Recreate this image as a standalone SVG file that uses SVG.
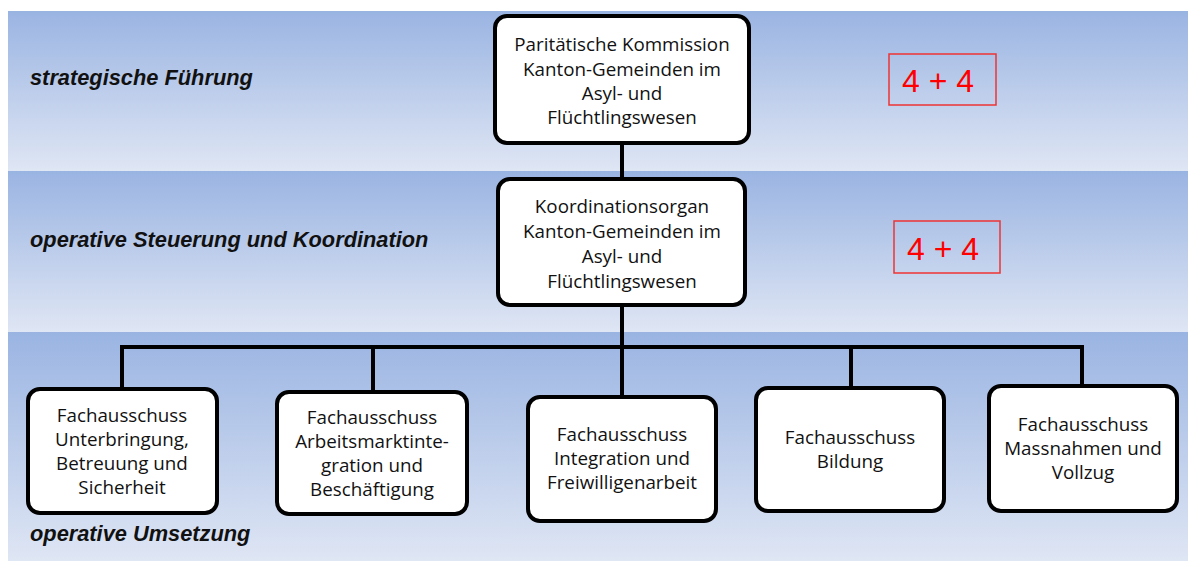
<svg xmlns="http://www.w3.org/2000/svg" width="1188" height="562" viewBox="0 0 1188 562">
<defs>
<linearGradient id="band" x1="0" y1="0" x2="0" y2="1">
<stop offset="0" stop-color="#9ab4e2"/>
<stop offset="1" stop-color="#dfe6f4"/>
</linearGradient>
</defs>
<style>
.box{fill:#ffffff;stroke:#000000;stroke-width:4}
.lbl{font-family:"Open Sans","Liberation Sans",sans-serif;font-size:18.8px;fill:#111111;text-anchor:middle}
.lvl{font-family:"Liberation Sans",Arial,sans-serif;font-size:21.8px;font-weight:bold;font-style:italic;fill:#111111}
.num{font-family:"Liberation Sans",Arial,sans-serif;font-size:32px;fill:#ff0000;text-anchor:middle}
.numbox{fill:none;stroke:#ee3333;stroke-width:1.5}
.con{stroke:#000000;stroke-width:4;fill:none}
</style>
<rect width="1188" height="562" fill="#ffffff"/>
<g id="bands">
<rect x="8" y="11" width="1180" height="160" fill="url(#band)"/>
<rect x="8" y="171" width="1180" height="161" fill="url(#band)"/>
<rect x="8" y="332" width="1180" height="229" fill="url(#band)"/>
<text class="lvl" x="30" y="85">strategische Führung</text>
<text class="lvl" x="30" y="247">operative Steuerung und Koordination</text>
<text class="lvl" x="30" y="541">operative Umsetzung</text>
</g>
<g id="connectors">
<path class="con" d="M622 143 V179"/>
<path class="con" d="M622 305 V397"/>
<path class="con" d="M122 389 V347 H1082 V386"/>
<path class="con" d="M373 347 V392"/>
<path class="con" d="M851 347 V388"/>
</g>
<g id="node-paritaetische">
<rect class="box" x="495" y="16" width="254" height="127" rx="12"/>
<text class="lbl" x="622" y="51">Paritätische Kommission</text>
<text class="lbl" x="622" y="76">Kanton-Gemeinden im</text>
<text class="lbl" x="622" y="100">Asyl- und</text>
<text class="lbl" x="622" y="124">Flüchtlingswesen</text>
</g>
<g id="node-koordinationsorgan">
<rect class="box" x="498" y="179" width="247" height="126" rx="12"/>
<text class="lbl" x="622" y="213">Koordinationsorgan</text>
<text class="lbl" x="622" y="238">Kanton-Gemeinden im</text>
<text class="lbl" x="622" y="263">Asyl- und</text>
<text class="lbl" x="622" y="288">Flüchtlingswesen</text>
</g>
<g id="node-count1">
<rect class="numbox" x="889" y="54" width="107" height="51"/>
<text class="num" x="938" y="92">4 + 4</text>
</g>
<g id="node-count2">
<rect class="numbox" x="894" y="221" width="106" height="52"/>
<text class="num" x="943" y="260">4 + 4</text>
</g>
<g id="node-unterbringung">
<rect class="box" x="28" y="389" width="189" height="124" rx="12"/>
<text class="lbl" x="122" y="422">Fachausschuss</text>
<text class="lbl" x="122" y="446">Unterbringung,</text>
<text class="lbl" x="122" y="470">Betreuung und</text>
<text class="lbl" x="122" y="494">Sicherheit</text>
</g>
<g id="node-arbeitsmarkt">
<rect class="box" x="277" y="392" width="190" height="122" rx="12"/>
<text class="lbl" x="372" y="424">Fachausschuss</text>
<text class="lbl" x="372" y="448">Arbeitsmarktinte-</text>
<text class="lbl" x="372" y="472">gration und</text>
<text class="lbl" x="372" y="496">Beschäftigung</text>
</g>
<g id="node-integration">
<rect class="box" x="528" y="397" width="188" height="124" rx="12"/>
<text class="lbl" x="622" y="441">Fachausschuss</text>
<text class="lbl" x="622" y="465">Integration und</text>
<text class="lbl" x="622" y="489">Freiwilligenarbeit</text>
</g>
<g id="node-bildung">
<rect class="box" x="756" y="388" width="188" height="123" rx="12"/>
<text class="lbl" x="850" y="444">Fachausschuss</text>
<text class="lbl" x="850" y="468">Bildung</text>
</g>
<g id="node-massnahmen">
<rect class="box" x="989" y="386" width="188" height="125" rx="12"/>
<text class="lbl" x="1083" y="431">Fachausschuss</text>
<text class="lbl" x="1083" y="455">Massnahmen und</text>
<text class="lbl" x="1083" y="479">Vollzug</text>
</g>
</svg>
